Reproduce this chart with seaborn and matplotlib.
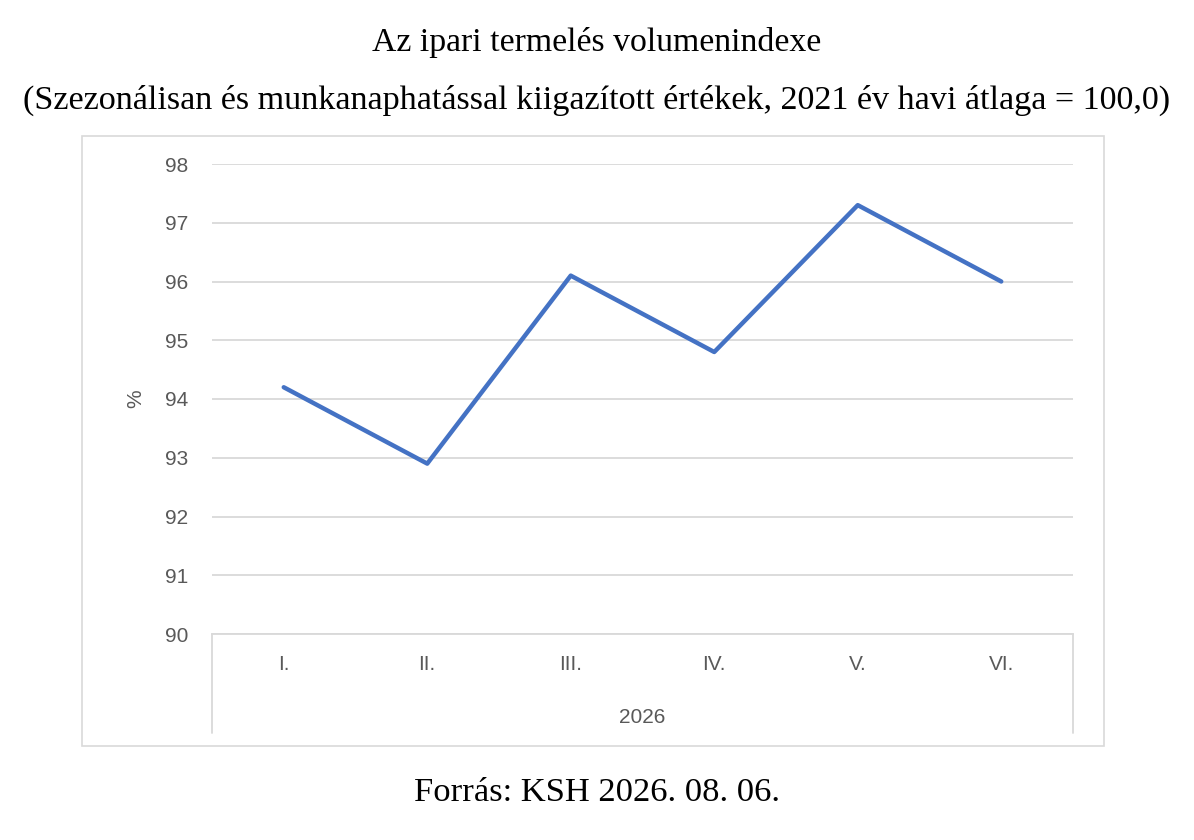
import matplotlib
matplotlib.use("Agg")
import matplotlib.pyplot as plt
import seaborn as sns
import pandas as pd
from matplotlib.patches import Rectangle

# chart data
months = ["I.", "II.", "III.", "IV.", "V.", "VI."]
values = [94.2, 92.9, 96.1, 94.8, 97.3, 96.0]
year_label = "2026"
y_ticks = [90, 91, 92, 93, 94, 95, 96, 97, 98]

title = "Az ipari termelés volumenindexe"
subtitle = "(Szezonálisan és munkanaphatással kiigazított értékek, 2021 év havi átlaga = 100,0)"
source = "Forrás: KSH 2026. 08. 06."

sns.set_theme(style="white")
plt.rcParams["font.family"] = ["Liberation Sans", "DejaVu Sans"]

W, H = 1194, 840
fig = plt.figure(figsize=(W / 100, H / 100), dpi=100)

# outer chart frame
fig.patches.append(Rectangle((82 / W, 1 - 746 / H), (1104 - 82) / W, (746 - 136) / H,
                             transform=fig.transFigure, fill=False,
                             edgecolor="#d9d9d9", linewidth=1.2))

ax = fig.add_axes([212 / W, 1 - 634 / H, (1073 - 212) / W, (634 - 164) / H])

df = pd.DataFrame({"x": range(len(months)), "value": values})
sns.lineplot(data=df, x="x", y="value", ax=ax, color="#4472C4", linewidth=3.2)

ax.set_xlim(-0.5, len(months) - 0.5)
ax.set_ylim(y_ticks[0], y_ticks[-1])
ax.set_yticks(y_ticks)
ax.set_xticks(range(len(months)))
ax.set_xticklabels(months)
ax.grid(axis="y", color="#d9d9d9", linewidth=1.3)
ax.grid(axis="x", visible=False)
for side in ["left", "right", "top"]:
    ax.spines[side].set_visible(False)
ax.spines["bottom"].set_color("#d9d9d9")
ax.spines["bottom"].set_linewidth(1.3)
ax.tick_params(axis="both", length=0, labelsize=15, labelcolor="#595959")
ax.tick_params(axis="y", pad=17)
ax.tick_params(axis="x", pad=15)
ax.set_xlabel("")
ax.set_ylabel("%", fontsize=15, color="#595959", labelpad=14)

# multi-level category axis separators
for xv in [-0.5, len(months) - 0.5]:
    ax.axvline(xv, ymin=-0.21, ymax=0, clip_on=False, color="#d9d9d9", linewidth=1.3)
ax.text(0.5, -0.177, year_label, transform=ax.transAxes, ha="center", va="center",
        fontsize=15, color="#595959")

serif = ["Liberation Serif", "DejaVu Serif"]
fig.text(0.5, 1 - 42 / H, title, ha="center", va="center", fontsize=24.3, family=serif, color="black")
fig.text(0.5, 1 - 100 / H, subtitle, ha="center", va="center", fontsize=24.6, family=serif, color="black")
fig.text(0.5, 1 - 793 / H, source, ha="center", va="center", fontsize=24.8, family=serif, color="black")

fig.savefig("out.png", dpi=100, facecolor="white")
